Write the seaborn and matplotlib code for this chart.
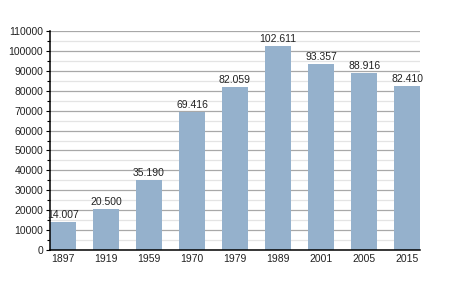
import matplotlib
matplotlib.use("Agg")
import matplotlib.pyplot as plt
import seaborn as sns
import pandas as pd
from matplotlib.ticker import MultipleLocator

years = ["1897", "1919", "1959", "1970", "1979", "1989", "2001", "2005", "2015"]
population = [14007, 20500, 35190, 69416, 82059, 102611, 93357, 88916, 82410]
value_labels = ["14.007", "20.500", "35.190", "69.416", "82.059", "102.611", "93.357", "88.916", "82.410"]

df = pd.DataFrame({"year": years, "population": population})

sns.set_theme(style="white")
plt.rcParams['font.family'] = ['Liberation Sans', 'DejaVu Sans']

fig = plt.figure(figsize=(4.5, 3), dpi=100)
ax = fig.add_axes([50/450, 50/300, 370/450, 219/300])

sns.barplot(data=df, x="year", y="population", color="#95b1cc", width=0.6,
            saturation=1, ax=ax, zorder=3, edgecolor="none", linewidth=0)

ax.set_xlim(-0.3, 8.3)
ax.set_ylim(0, 110000)
ax.yaxis.set_major_locator(MultipleLocator(10000))
ax.yaxis.set_minor_locator(MultipleLocator(5000))
ax.grid(which="major", axis="y", color="#a8a8a8", linewidth=0.9, zorder=0)
ax.grid(which="minor", axis="y", color="#e4e4e4", linewidth=0.9, zorder=0)
ax.set_axisbelow(True)

for s in ["top", "right"]:
    ax.spines[s].set_visible(False)
for s in ["left", "bottom"]:
    ax.spines[s].set_color("black")
    ax.spines[s].set_linewidth(1.1)
    ax.spines[s].set_zorder(5)

ax.tick_params(axis="y", which="major", left=True, length=3, width=0.8, color="black",
               labelsize=7.5, labelcolor="#222222", pad=2)
ax.tick_params(axis="y", which="minor", left=True, length=2, width=0.8, color="black")
ax.tick_params(axis="x", bottom=False, length=0, labelsize=7.5, labelcolor="#222222", pad=3)

ax.set_xlabel("")
ax.set_ylabel("")

for i, (v, lab) in enumerate(zip(population, value_labels)):
    ax.annotate(lab, (i, v), xytext=(0, 1.5), textcoords="offset points",
                ha="center", va="bottom", fontsize=7.5, color="#222222", zorder=6)

fig.savefig("out.png", dpi=100, facecolor="white")
